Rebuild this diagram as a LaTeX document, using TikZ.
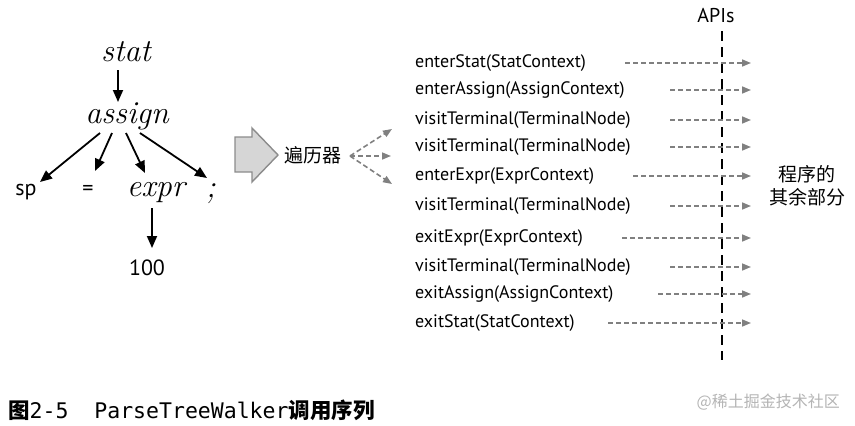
\documentclass[tikz,border=0pt]{standalone}
\usepackage{fontspec}
\usetikzlibrary{arrows.meta,calc}
\setmainfont{Latin Modern Roman}
\newfontfamily\sansf{PT Sans}
\newfontfamily\cjk{Noto Sans CJK SC}
\newfontfamily\monof{DejaVu Sans Mono}
\definecolor{callgray}{HTML}{808080}
\definecolor{blockfill}{HTML}{D6D6D6}
\definecolor{blockdraw}{HTML}{8C8C8C}
\definecolor{markgray}{HTML}{B4B4B4}

\tikzset{
  rule/.style={font=\fontsize{32}{34}\selectfont\itshape,inner sep=1pt},
  token/.style={font=\sansf\fontsize{22}{24}\selectfont,inner sep=1pt},
  tarrow/.style={-{Triangle[length=12pt,width=10pt]},line width=1.8pt},
  method/.style={font=\sansf\fontsize{18}{20}\selectfont,anchor=west,inner sep=0pt},
  call/.style={-{Triangle[length=9pt,width=7pt]},callgray,line width=1.6pt,dash pattern=on 5pt off 3pt},
}

\begin{document}
\begin{tikzpicture}[x=1pt,y=-1pt]
  \useasboundingbox (0,0) rectangle (855,426);

  % parse tree
  \node[rule] (stat) at (126,52) {stat};
  \node[rule] (assign) at (127,116) {assign};
  \node[token] (sp) at (26,192) {sp};
  \node[token] (eq) at (88,190) {=};
  \node[rule] (expr) at (156,193) {expr};
  \node[rule] (semi) at (211,194) {;};
  \node[token] (hundred) at (147,268) {100};
  \draw[tarrow] ($(stat)+(-8,18)$) -- ($(assign)+(-9,-14)$);
  \draw[tarrow] ($(assign)+(-27,17)$) -- ($(sp)+(14,-10)$);
  \draw[tarrow] ($(assign)+(-15,17)$) -- ($(eq)+(7,-19)$);
  \draw[tarrow] ($(assign)+(-1,17)$) -- ($(expr)+(-11,-20)$);
  \draw[tarrow] ($(assign)+(13,17)$) -- ($(semi)+(-4,-16)$);
  \draw[tarrow] ($(expr)+(-4,15)$) -- ($(hundred)+(5,-20)$);

  % block arrow and walker
  \draw[blockdraw,fill=blockfill,line width=1.4pt]
    (235,137) -- (252,137) -- (252,128) -- (278,155) -- (252,182) -- (252,172) -- (235,172) -- cycle;
  \node[font=\cjk\fontsize{19}{21}\selectfont,inner sep=1pt] (walker) at (313,155) {遍历器};
  \coordinate (fan) at (350,156);
  \coordinate (f1) at (392,129);
  \coordinate (f2) at (391,156);
  \coordinate (f3) at (392,184);
  \foreach \f in {f1,f2,f3}
    \draw[call] (fan) -- (\f);

  % API boundary
  \node[font=\sansf\fontsize{20}{22}\selectfont,inner sep=1pt] (apis) at (716,16) {APIs};
  \draw[line width=2pt,dash pattern=on 10pt off 6pt] (722,31) coordinate (top) -- (722,360) coordinate (bot);

  % callback sequence
  \foreach \y/\xs/\txt [count=\i] in {
      63/625/enterStat(StatContext),
      90/670/enterAssign(AssignContext),
      120/670/visitTerminal(TerminalNode),
      147/670/visitTerminal(TerminalNode),
      176/633/enterExpr(ExprContext),
      206/670/visitTerminal(TerminalNode),
      238/622/exitExpr(ExprContext),
      267/670/visitTerminal(TerminalNode),
      294/658/exitAssign(AssignContext),
      323/608/exitStat(StatContext)} {
    \node[method] (m\i) at (415,\y) {\txt};
    \coordinate (s\i) at (\xs,\y);
    \coordinate (e\i) at (751,\y);
    \draw[call] (s\i) -- (e\i);
  }

  \node[font=\cjk\fontsize{19}{23}\selectfont,align=center,inner sep=0pt] (rest) at (807,186) {程序的\\其余部分};

  % caption and mark
  \node[anchor=west,inner sep=0pt,font=\fontsize{21.5}{23}\selectfont] (caption) at (8,410)
    {{\cjk\bfseries 图}{\monof 2-5\ \ ParseTreeWalker}{\cjk\bfseries 调用序列}};
  \node[anchor=east,inner sep=0pt,text=markgray,font=\cjk\fontsize{16}{18}\selectfont] (mark) at (840,402) {@稀土掘金技术社区};
\end{tikzpicture}
\end{document}
